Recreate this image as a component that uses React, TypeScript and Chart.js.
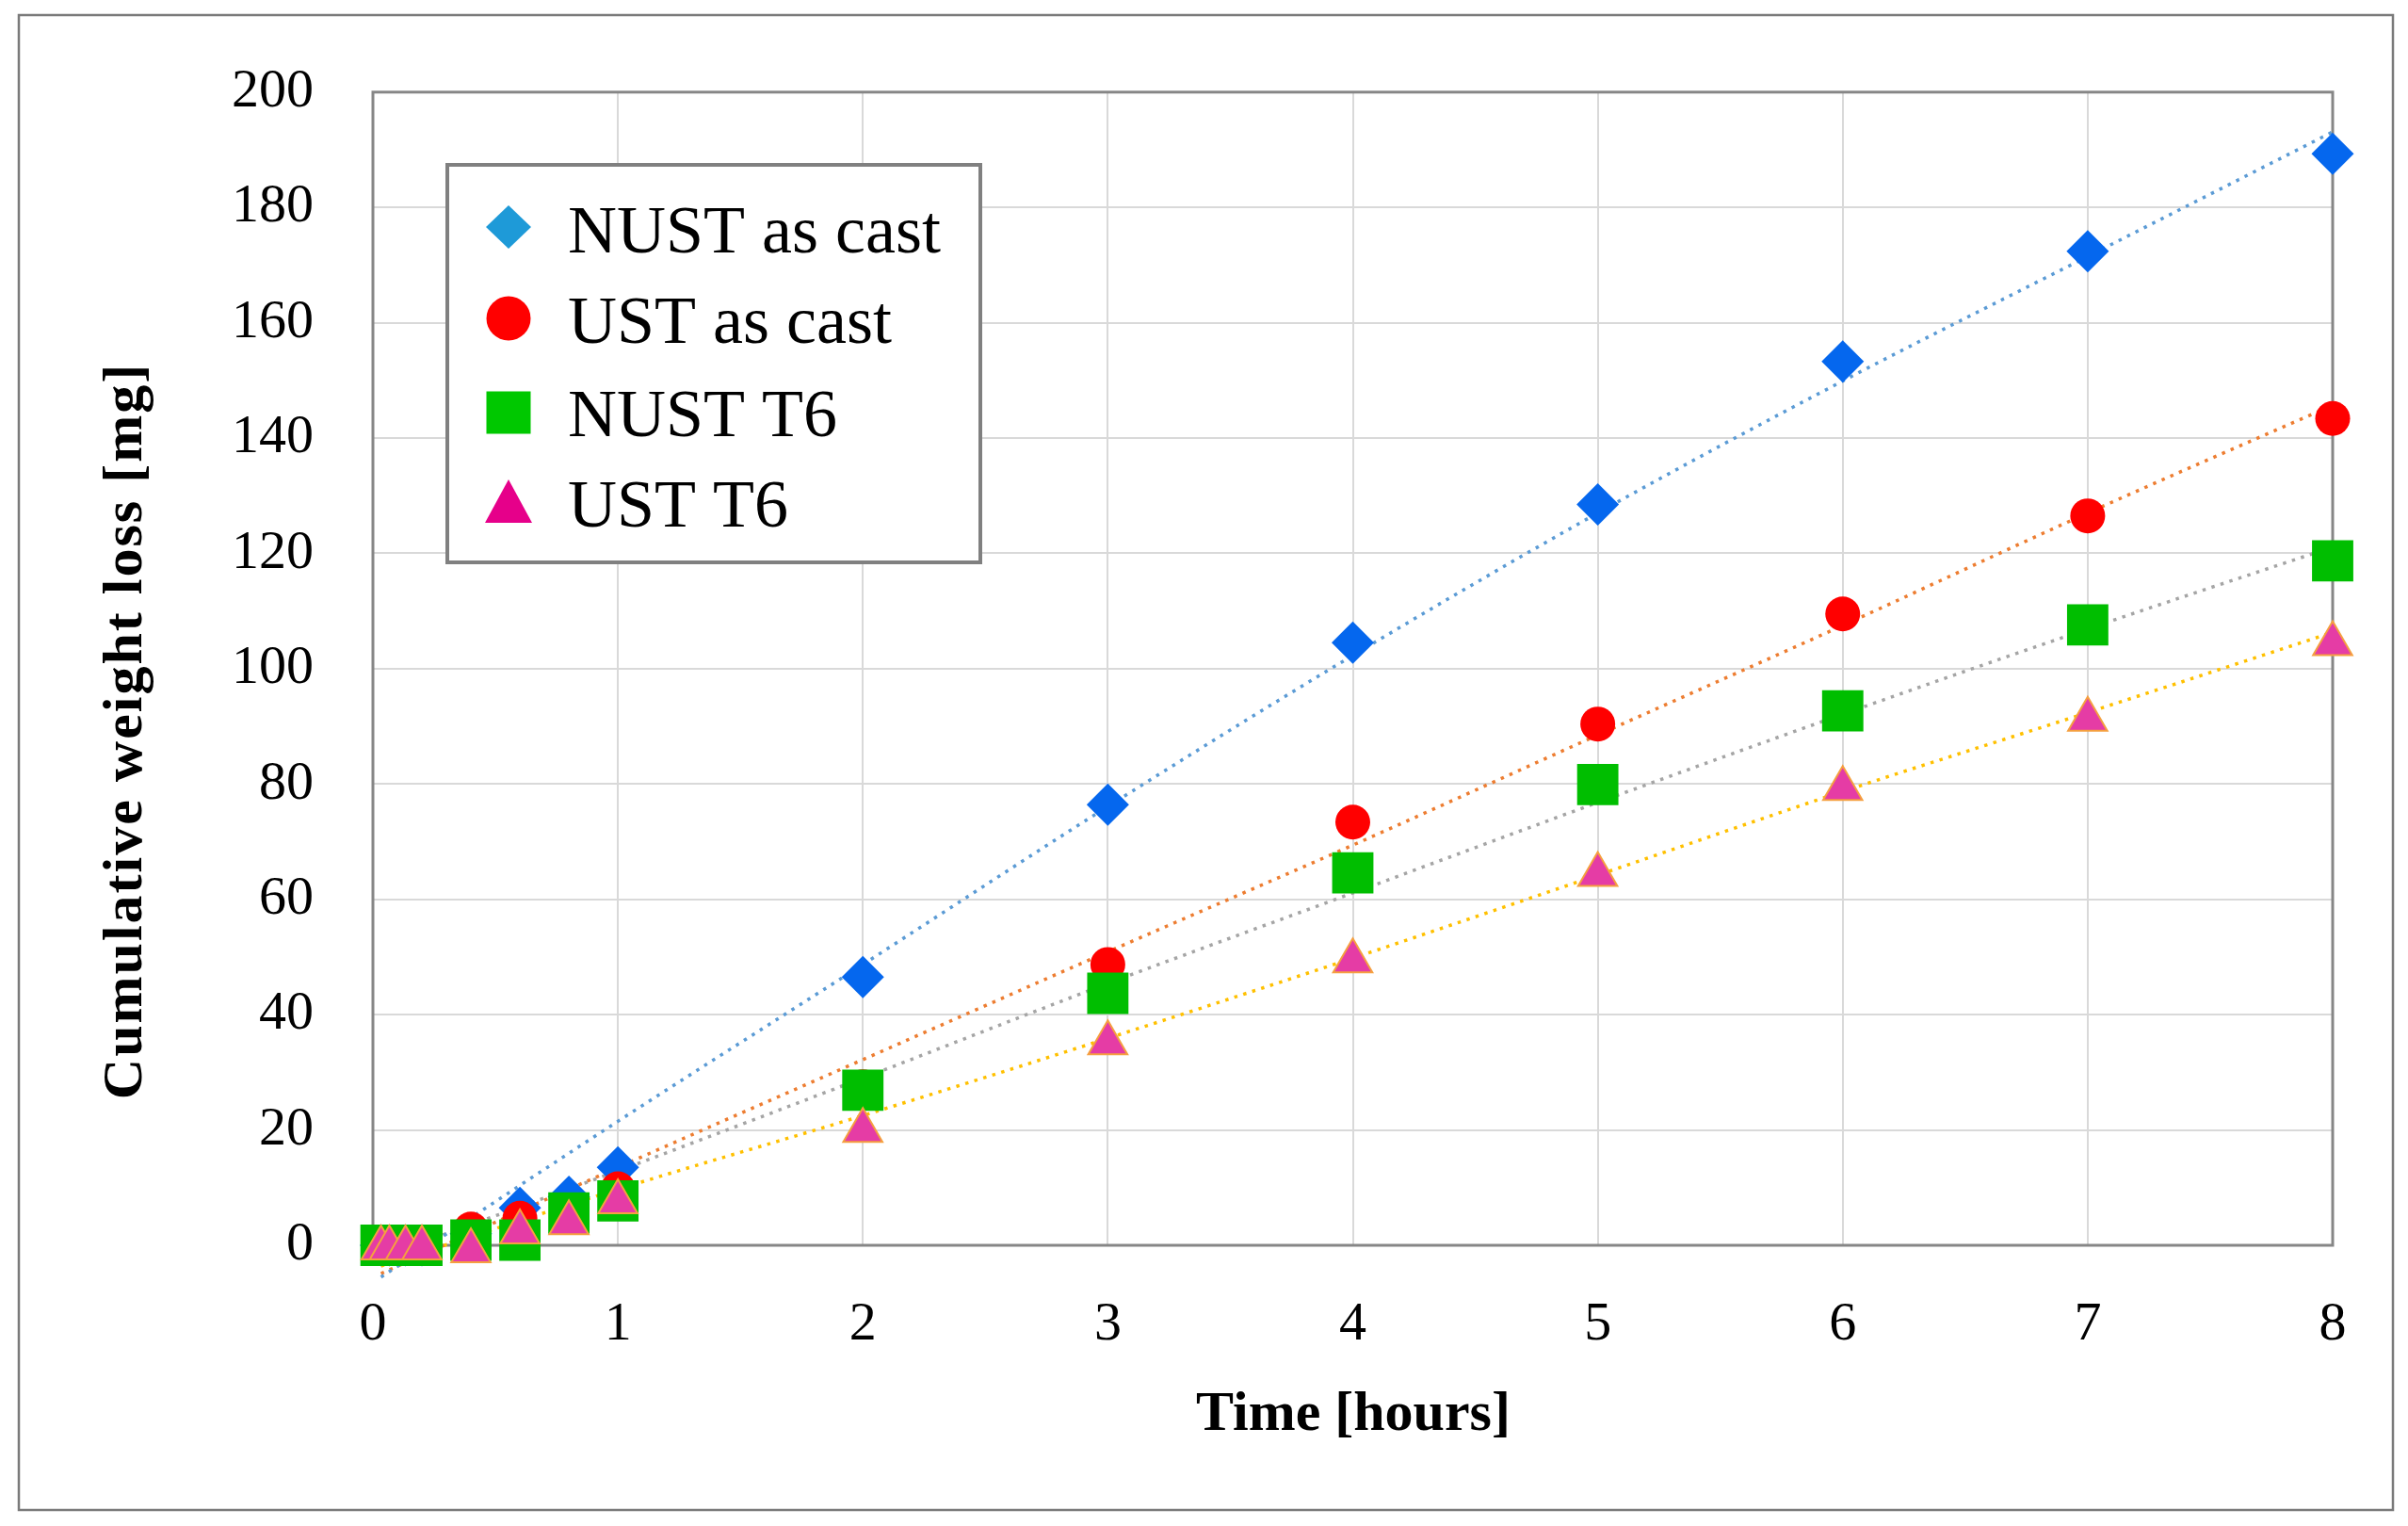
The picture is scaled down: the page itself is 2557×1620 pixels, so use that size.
import { useEffect, useRef } from "react";
import { Chart, registerables } from "chart.js";
import type { Plugin } from "chart.js";

Chart.register(...registerables);

// time of each weighing [hours]
const hours = [0.033, 0.067, 0.133, 0.2, 0.4, 0.6, 0.8, 1, 2, 3, 4, 5, 6, 7, 8];

// cumulative weight loss [mg]
const nustAsCast = [0, 0, 0, 0, 2, 6.5, 8.4, 13.5, 46.5, 76.4, 104.5, 128.5, 153.3, 172.4, 189.3];
const ustAsCast = [0, 0, 0, 0, 2.8, 4.7, 5.5, 9.8, 27.5, 48.7, 73.4, 90.4, 109.5, 126.5, 143.4];
const nustT6 = [0, 0, 0, 0, 0.9, 0.9, 5.6, 7.7, 26.9, 43.7, 64.6, 79.9, 92.7, 107.6, 118.7];
const ustT6 = [-0.5, -0.5, -0.5, -0.5, -1, 2.3, 3.9, 7.5, 19.9, 35.1, 49.3, 64.3, 79.2, 91.2, 104.3];

// dotted trend lines
const trendHours = [0.033, 1, 2, 3, 4, 5, 6, 7, 8];
const nustAsCastTrend = [-5.5, 21.5, 48.7, 76.1, 102.3, 127, 149.9, 171.5, 193.1];
const ustAsCastTrend = [-4.9, 13.5, 32.2, 50.9, 69.4, 88.5, 107.5, 127, 145.7];
const nustT6Trend = [-2.1, 12.9, 29, 45.4, 61.1, 76.8, 92.1, 106.9, 121.1];
const ustT6Trend = [-3.6, 9.7, 22.5, 35.9, 49.8, 64.2, 78.7, 92.4, 106.3];

const seriesNames = ["NUST as cast", "UST as cast", "NUST T6", "UST T6"];
const xTicks = [0, 1, 2, 3, 4, 5, 6, 7, 8];
const yTicks = [0, 20, 40, 60, 80, 100, 120, 140, 160, 180, 200];

const FONT = "'Liberation Serif', 'Times New Roman', serif";
const W = 2557;
const H = 1620;

const pts = (xs: number[], ys: number[]) => xs.map((x, i) => ({ x, y: ys[i] }));

function legendMarker(ctx: CanvasRenderingContext2D, kind: string, x: number, y: number) {
  ctx.beginPath();
  if (kind === "diamond") {
    ctx.fillStyle = "#1E9AD8";
    ctx.moveTo(x, y - 23);
    ctx.lineTo(x + 24, y);
    ctx.lineTo(x, y + 23);
    ctx.lineTo(x - 24, y);
  } else if (kind === "circle") {
    ctx.fillStyle = "#FF0000";
    ctx.ellipse(x, y, 23.5, 23.5, 0, 0, Math.PI * 2);
  } else if (kind === "square") {
    ctx.fillStyle = "#00C800";
    ctx.rect(x - 23.5, y - 22.5, 47, 45);
  } else {
    ctx.fillStyle = "#E6008A";
    ctx.moveTo(x, y - 23);
    ctx.lineTo(x + 25, y + 23);
    ctx.lineTo(x - 25, y + 23);
  }
  ctx.closePath();
  ctx.fill();
}

const framePlugin: Plugin<"scatter"> = {
  id: "frame",
  beforeDraw(chart) {
    const ctx = chart.ctx;
    ctx.save();
    ctx.fillStyle = "#ffffff";
    ctx.fillRect(0, 0, chart.width, chart.height);
    ctx.strokeStyle = "#7a7a7a";
    ctx.lineWidth = 2.5;
    ctx.strokeRect(20, 16, 2521, 1587);
    ctx.restore();
  },
  beforeDatasetsDraw(chart) {
    const { ctx, chartArea } = chart;
    ctx.save();
    ctx.strokeStyle = "#868686";
    ctx.lineWidth = 3;
    ctx.strokeRect(chartArea.left, chartArea.top, chartArea.right - chartArea.left, chartArea.bottom - chartArea.top);
    ctx.restore();
  },
  afterDraw(chart) {
    const ctx = chart.ctx;
    ctx.save();

    // axis titles
    ctx.fillStyle = "#000000";
    ctx.font = `bold 60px ${FONT}`;
    ctx.textAlign = "center";
    ctx.textBaseline = "middle";
    ctx.fillText("Time [hours]", 1437, 1502);
    ctx.save();
    ctx.translate(134, 776);
    ctx.rotate(-Math.PI / 2);
    (ctx as any).letterSpacing = "2px";
    ctx.fillText("Cumulative weight loss [mg]", 0, 0);
    ctx.restore();

    // legend box
    ctx.fillStyle = "#ffffff";
    ctx.fillRect(475, 175, 566, 422);
    ctx.strokeStyle = "#808080";
    ctx.lineWidth = 4;
    ctx.strokeRect(475, 175, 566, 422);

    const kinds = ["diamond", "circle", "square", "triangle"];
    const rowY = [241, 338, 438, 532];
    const baseY = [268, 364, 463, 559];
    ctx.font = `72px ${FONT}`;
    ctx.textAlign = "left";
    ctx.textBaseline = "alphabetic";
    seriesNames.forEach((name, i) => {
      legendMarker(ctx, kinds[i], 540, rowY[i]);
      ctx.fillStyle = "#000000";
      ctx.fillText(name, 603, baseY[i]);
    });
    ctx.restore();
  },
};

export default function App() {
  const canvasRef = useRef<HTMLCanvasElement>(null);
  const chartRef = useRef<Chart<"scatter"> | null>(null);

  useEffect(() => {
    document.body.style.margin = "0";
    if (!canvasRef.current) return;
    const ctx = canvasRef.current.getContext("2d");
    if (!ctx) return;

    if (chartRef.current) chartRef.current.destroy();

    const trend = (data: number[], color: string) => ({
      label: "trend",
      data: pts(trendHours, data),
      showLine: true,
      pointRadius: 0,
      borderColor: color,
      borderWidth: 3.5,
      borderDash: [3.5, 6.5],
      cubicInterpolationMode: "monotone" as const,
      order: 10,
      clip: false as const,
    });

    chartRef.current = new Chart(ctx, {
      type: "scatter",
      data: {
        datasets: [
          {
            label: seriesNames[0],
            data: pts(hours, nustAsCast),
            pointStyle: "rectRot",
            pointRadius: 22.5,
            backgroundColor: "#0567EE",
            borderWidth: 0,
            order: 4,
            clip: false,
          },
          {
            label: seriesNames[1],
            data: pts(hours, ustAsCast),
            pointStyle: "circle",
            pointRadius: 18.5,
            backgroundColor: "#FF0000",
            borderWidth: 0,
            order: 3,
            clip: false,
          },
          {
            label: seriesNames[2],
            data: pts(hours, nustT6),
            pointStyle: "rect",
            pointRadius: 31,
            backgroundColor: "#00BE00",
            borderWidth: 0,
            order: 2,
            clip: false,
          },
          {
            label: seriesNames[3],
            data: pts(hours, ustT6),
            pointStyle: "triangle",
            pointRadius: 24,
            backgroundColor: "#E53CA5",
            borderColor: "#F5A040",
            borderWidth: 2,
            order: 1,
            clip: false,
          },
          trend(nustAsCastTrend, "#5B9BD5"),
          trend(ustAsCastTrend, "#ED7D31"),
          trend(nustT6Trend, "#A5A5A5"),
          trend(ustT6Trend, "#FFC000"),
        ],
      },
      options: {
        animation: false,
        responsive: true,
        maintainAspectRatio: false,
        layout: { padding: { top: 95, right: 80, left: 0, bottom: 0 } },
        plugins: {
          legend: { display: false },
          tooltip: { enabled: false },
        },
        scales: {
          x: {
            type: "linear",
            min: 0,
            max: 8,
            afterBuildTicks: (scale) => {
              scale.ticks = xTicks.map((value) => ({ value }));
            },
            afterFit: (scale) => {
              scale.height = H - 1322;
            },
            ticks: {
              color: "#000000",
              font: { family: FONT, size: 58 },
              padding: 50,
            },
            grid: { color: "#d9d9d9", lineWidth: 2, drawTicks: false },
            border: { display: false },
          },
          y: {
            min: 0,
            max: 200,
            afterBuildTicks: (scale) => {
              scale.ticks = yTicks.map((value) => ({ value }));
            },
            afterFit: (scale) => {
              scale.width = 396;
            },
            ticks: {
              color: "#000000",
              font: { family: FONT, size: 58 },
              padding: 63,
            },
            grid: { color: "#d9d9d9", lineWidth: 2, drawTicks: false },
            border: { display: false },
          },
        },
      },
      plugins: [framePlugin],
    });

    return () => {
      if (chartRef.current) {
        chartRef.current.destroy();
        chartRef.current = null;
      }
    };
  }, []);

  return (
    <div style={{ position: "relative", width: W, height: H }}>
      <canvas ref={canvasRef} />
    </div>
  );
}
